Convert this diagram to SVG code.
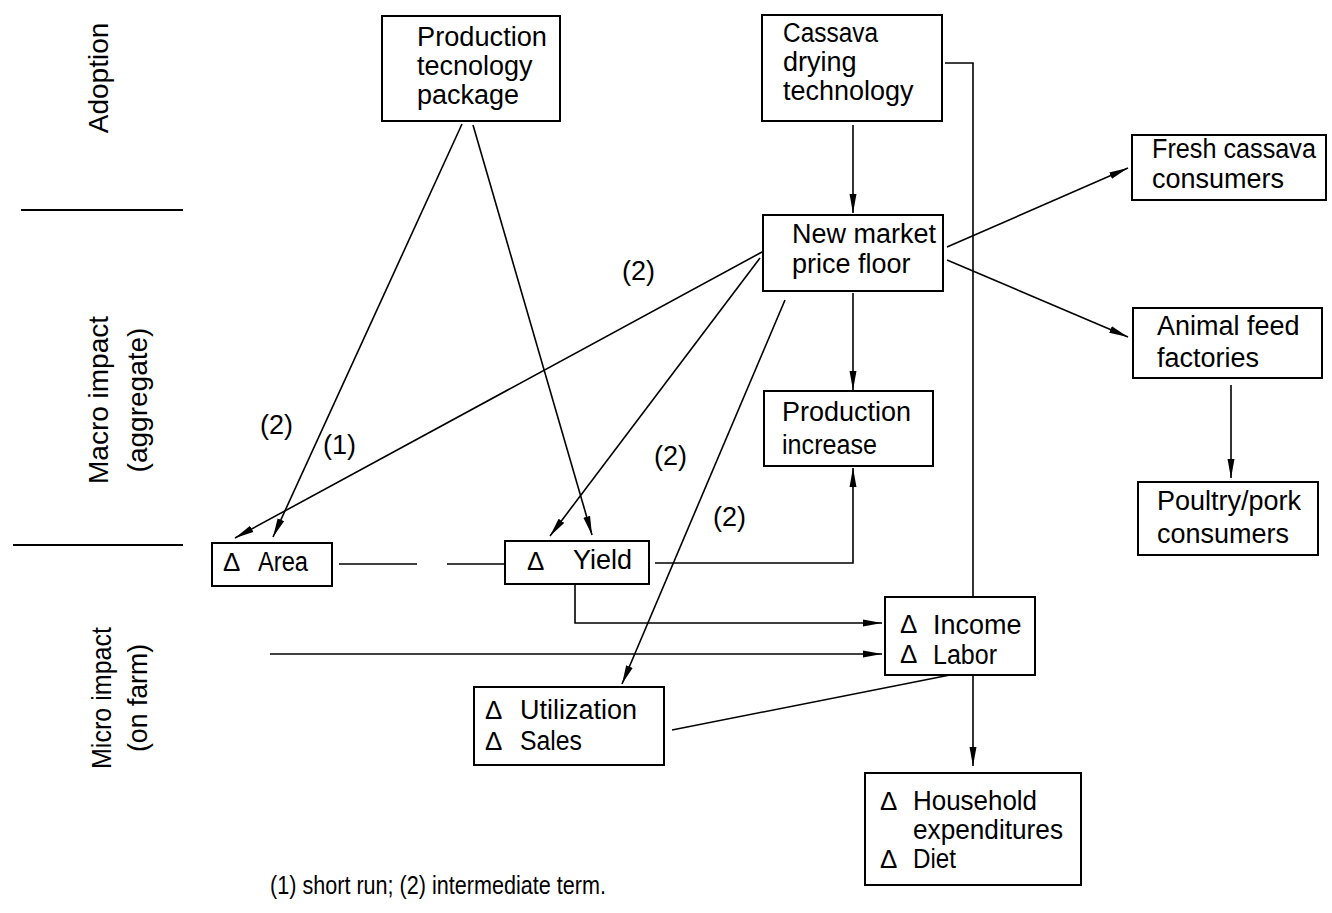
<svg xmlns="http://www.w3.org/2000/svg" width="1332" height="913" viewBox="0 0 1332 913">
<style>
text { font-family: "Liberation Sans", Arial, sans-serif; fill: #000; }
.t { font-size: 27px; }
.d { font-size: 26px; }
.side { font-size: 28px; text-anchor: middle; }
.lbl { font-size: 27px; }
.foot { font-size: 26px; }
.box { fill: #fff; stroke: #000; stroke-width: 2; }
.c { fill: none; stroke: #000; stroke-width: 1.6; }
.sep { stroke: #000; stroke-width: 2; }
</style>
<defs>
<marker id="ah" markerWidth="19" markerHeight="9" refX="19" refY="4.5" orient="auto" markerUnits="userSpaceOnUse">
<path d="M0,1 L19,4.5 L0,8 Z" fill="#000"/>
</marker>
</defs>
<rect width="1332" height="913" fill="#fff"/>

<g id="side-labels">
<line class="sep" x1="21" y1="210" x2="183" y2="210"/>
<line class="sep" x1="13" y1="545" x2="183" y2="545"/>
<text class="side" transform="translate(108,78) rotate(-90)">Adoption</text>
<text class="side" transform="translate(108,400) rotate(-90)">Macro impact</text>
<text class="side" transform="translate(147,400) rotate(-90)">(aggregate)</text>
<text class="side" transform="translate(111,698) rotate(-90)" textLength="142" lengthAdjust="spacingAndGlyphs">Micro impact</text>
<text class="side" transform="translate(147,698) rotate(-90)" textLength="108" lengthAdjust="spacingAndGlyphs">(on farm)</text>
</g>

<g id="connectors">
<line class="c" x1="462" y1="124" x2="273" y2="537" marker-end="url(#ah)"/>
<line class="c" x1="473" y1="125" x2="592" y2="535" marker-end="url(#ah)"/>
<line class="c" x1="762" y1="252" x2="235" y2="538" marker-end="url(#ah)"/>
<line class="c" x1="760" y1="258" x2="550" y2="536" marker-end="url(#ah)"/>
<line class="c" x1="785" y1="300" x2="622" y2="684" marker-end="url(#ah)"/>
<line class="c" x1="853" y1="125" x2="853" y2="213" marker-end="url(#ah)"/>
<line class="c" x1="853" y1="293" x2="853" y2="390" marker-end="url(#ah)"/>
<polyline class="c" points="655,563 853,563 853,468" marker-end="url(#ah)"/>
<polyline class="c" points="575,584 575,623 882,623" marker-end="url(#ah)"/>
<line class="c" x1="270" y1="654" x2="882" y2="654" marker-end="url(#ah)"/>
<line class="c" x1="672" y1="730" x2="955" y2="674"/>
<line class="c" x1="339" y1="564" x2="417" y2="564"/>
<line class="c" x1="447" y1="564" x2="505" y2="564"/>
<polyline class="c" points="945,63 973,63 973,766" marker-end="url(#ah)"/>
<line class="c" x1="947" y1="247" x2="1128" y2="168" marker-end="url(#ah)"/>
<line class="c" x1="947" y1="260" x2="1128" y2="337" marker-end="url(#ah)"/>
<line class="c" x1="1231" y1="385" x2="1231" y2="478" marker-end="url(#ah)"/>
</g>

<g id="edge-labels">
<text class="lbl" x="622" y="280">(2)</text>
<text class="lbl" x="654" y="465">(2)</text>
<text class="lbl" x="713" y="526">(2)</text>
<text class="lbl" x="260" y="434">(2)</text>
<text class="lbl" x="323" y="454">(1)</text>
</g>

<g id="node-package">
<rect class="box" x="382" y="16" width="178" height="105"/>
<text class="t" x="417" y="46" textLength="130" lengthAdjust="spacingAndGlyphs">Production</text>
<text class="t" x="417" y="75">tecnology</text>
<text class="t" x="417" y="104">package</text>
</g>

<g id="node-cassava">
<rect class="box" x="762" y="15" width="180" height="106"/>
<text class="t" x="783" y="42" textLength="95" lengthAdjust="spacingAndGlyphs">Cassava</text>
<text class="t" x="783" y="71">drying</text>
<text class="t" x="783" y="100">technology</text>
</g>

<g id="node-newmarket">
<rect class="box" x="763" y="215" width="180" height="76"/>
<text class="t" x="792" y="243">New market</text>
<text class="t" x="792" y="273">price floor</text>
</g>

<g id="node-prodinc">
<rect class="box" x="764" y="391" width="169" height="75"/>
<text class="t" x="782" y="421">Production</text>
<text class="t" x="782" y="454" textLength="95" lengthAdjust="spacingAndGlyphs">increase</text>
</g>

<g id="node-fresh">
<rect class="box" x="1132" y="135" width="194" height="65"/>
<text class="t" x="1152" y="158" textLength="164" lengthAdjust="spacingAndGlyphs">Fresh cassava</text>
<text class="t" x="1152" y="188">consumers</text>
</g>

<g id="node-animal">
<rect class="box" x="1133" y="308" width="189" height="70"/>
<text class="t" x="1157" y="335">Animal feed</text>
<text class="t" x="1157" y="367">factories</text>
</g>

<g id="node-poultry">
<rect class="box" x="1138" y="482" width="180" height="73"/>
<text class="t" x="1157" y="510">Poultry/pork</text>
<text class="t" x="1157" y="543">consumers</text>
</g>

<g id="node-area">
<rect class="box" x="212" y="543" width="120" height="43"/>
<text class="d" x="223" y="571">Δ</text>
<text class="t" x="258" y="571" textLength="50" lengthAdjust="spacingAndGlyphs">Area</text>
</g>

<g id="node-yield">
<rect class="box" x="505" y="541" width="144" height="43"/>
<text class="d" x="527" y="570">Δ</text>
<text class="t" x="573" y="569">Yield</text>
</g>

<g id="node-income">
<rect class="box" x="885" y="597" width="150" height="78"/>
<text class="d" x="900" y="633">Δ</text>
<text class="t" x="933" y="634">Income</text>
<text class="d" x="900" y="663">Δ</text>
<text class="t" x="933" y="664" textLength="64" lengthAdjust="spacingAndGlyphs">Labor</text>
</g>

<g id="node-util">
<rect class="box" x="474" y="687" width="190" height="78"/>
<text class="d" x="485" y="719">Δ</text>
<text class="t" x="520" y="719">Utilization</text>
<text class="d" x="485" y="750">Δ</text>
<text class="t" x="520" y="750" textLength="62" lengthAdjust="spacingAndGlyphs">Sales</text>
</g>

<g id="node-household">
<rect class="box" x="865" y="773" width="216" height="112"/>
<text class="d" x="880" y="810">Δ</text>
<text class="t" x="913" y="810" textLength="124" lengthAdjust="spacingAndGlyphs">Household</text>
<text class="t" x="913" y="839" textLength="150" lengthAdjust="spacingAndGlyphs">expenditures</text>
<text class="d" x="880" y="868">Δ</text>
<text class="t" x="913" y="868" textLength="43" lengthAdjust="spacingAndGlyphs">Diet</text>
</g>

<g id="footnote">
<text class="foot" x="270" y="894" textLength="336" lengthAdjust="spacingAndGlyphs">(1) short run; (2) intermediate term.</text>
</g>
</svg>
